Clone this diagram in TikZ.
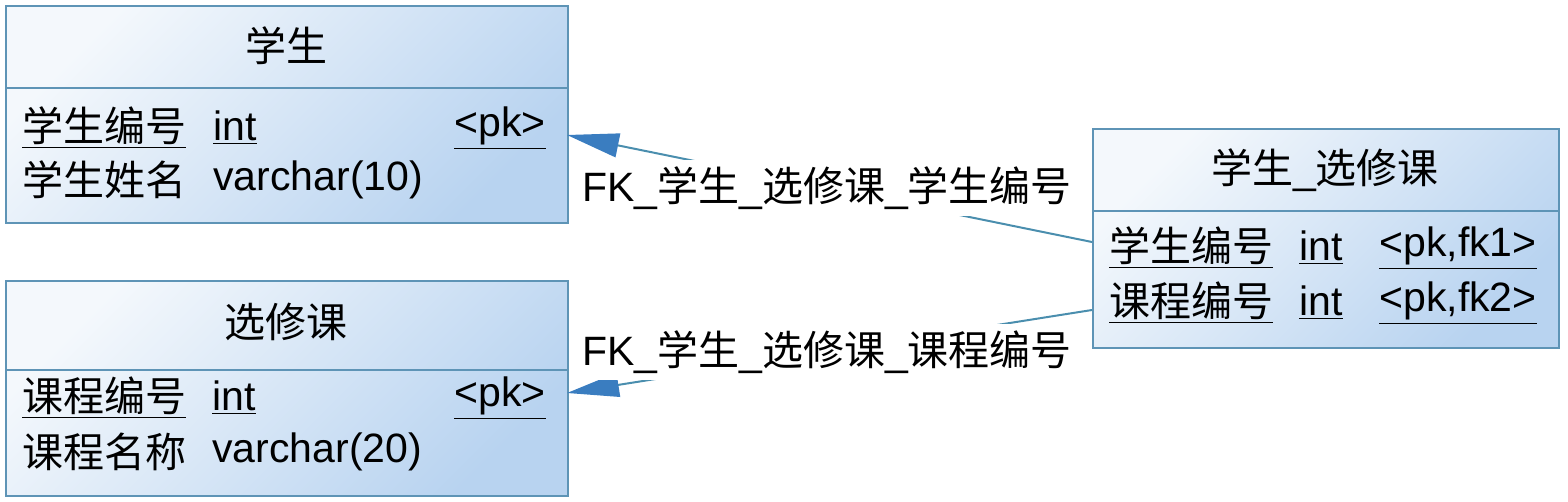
\documentclass[tikz,border=0pt]{standalone}
\usepackage{fontspec}
\setmainfont{Liberation Sans}
\newfontfamily\cjk{Noto Sans CJK SC}
\usetikzlibrary{arrows.meta}
\newcommand{\zh}[1]{{\cjk #1}}
\definecolor{bordc}{HTML}{5E94B6}
\definecolor{linec}{HTML}{4A8EAE}
\definecolor{arrc}{HTML}{3A7DC0}
\definecolor{topc}{HTML}{F4F8FC}
\definecolor{botc}{HTML}{B8D3F0}
\tikzset{
  tbl/.style={draw=bordc, line width=1pt, top color=topc, bottom color=botc, shading angle=45, anchor=north west, inner sep=0pt},
  sepline/.style={draw=bordc, line width=1pt},
  txt/.style={anchor=west, inner sep=0pt, font=\fontsize{20.5}{24}\selectfont},
  txtr/.style={anchor=east, inner sep=0pt, font=\fontsize{20.5}{24}\selectfont},
  hdr/.style={anchor=center, inner sep=0pt, font=\fontsize{20.5}{24}\selectfont},
  fk/.style={draw=linec, line width=1pt, -{Triangle[length=26pt, width=12pt, fill=arrc, color=arrc]}},
  fklabel/.style={fill=white, inner xsep=0pt, inner ysep=3.5pt, font=\fontsize{20.5}{24}\selectfont}
}
\begin{document}
\begin{tikzpicture}[x=0.5pt, y=-0.5pt]
\useasboundingbox (0,0) rectangle (1568,502);
% table 学生
\node[tbl, minimum width=281pt, minimum height=108.5pt] (stu) at (5,5) {};
\draw[sepline] (5,88) -- (567,88);
\node[hdr] (stuh) at (286,46) {\zh{学生}};
\node[txt] (stu1a) at (22,128) {\underline{\zh{学生编号}}};
\node[txt] (stu1b) at (213,128) {\underline{int}};
\node[txtr] (stu1c) at (546,128) {\underline{<pk>}};
\node[txt] (stu2a) at (22,180) {\zh{学生姓名}};
\node[txt] (stu2b) at (213,180) {varchar(10)};
% table 选修课
\node[tbl, minimum width=281pt, minimum height=107.5pt] (crs) at (5,280) {};
\draw[sepline] (5,370) -- (567,370);
\node[hdr] (crsh) at (286,322) {\zh{选修课}};
\node[txt] (crs1a) at (22,398) {\underline{\zh{课程编号}}};
\node[txt] (crs1b) at (212,398) {\underline{int}};
\node[txtr] (crs1c) at (546,398) {\underline{<pk>}};
\node[txt] (crs2a) at (22,452) {\zh{课程名称}};
\node[txt] (crs2b) at (212,452) {varchar(20)};
% table 学生_选修课
\node[tbl, minimum width=233pt, minimum height=109.5pt] (sc) at (1092,128) {};
\draw[sepline] (1092,211) -- (1558,211);
\node[hdr] (sch) at (1325,170) {\zh{学生}\_\zh{选修课}};
\node[txt] (sc1a) at (1109,248) {\underline{\zh{学生编号}}};
\node[txt] (sc1b) at (1299,248) {\underline{int}};
\node[txt] (sc1c) at (1379,248) {\underline{<pk,fk1>}};
\node[txt] (sc2a) at (1109,303) {\underline{\zh{课程编号}}};
\node[txt] (sc2b) at (1299,303) {\underline{int}};
\node[txt] (sc2c) at (1379,303) {\underline{<pk,fk2>}};
% connectors
\coordinate (fk1s) at (1092,242);
\coordinate (fk1t) at (567,135);
\coordinate (fk2s) at (1092,310);
\coordinate (fk2t) at (567,393);
\draw[fk] (fk1s) -- (fk1t);
\draw[fk] (fk2s) -- (fk2t);
\node[fklabel] (l1) at (827,188) {FK\_\zh{学生}\_\zh{选修课}\_\zh{学生编号}};
\node[fklabel] (l2) at (827,352) {FK\_\zh{学生}\_\zh{选修课}\_\zh{课程编号}};
\end{tikzpicture}
\end{document}
